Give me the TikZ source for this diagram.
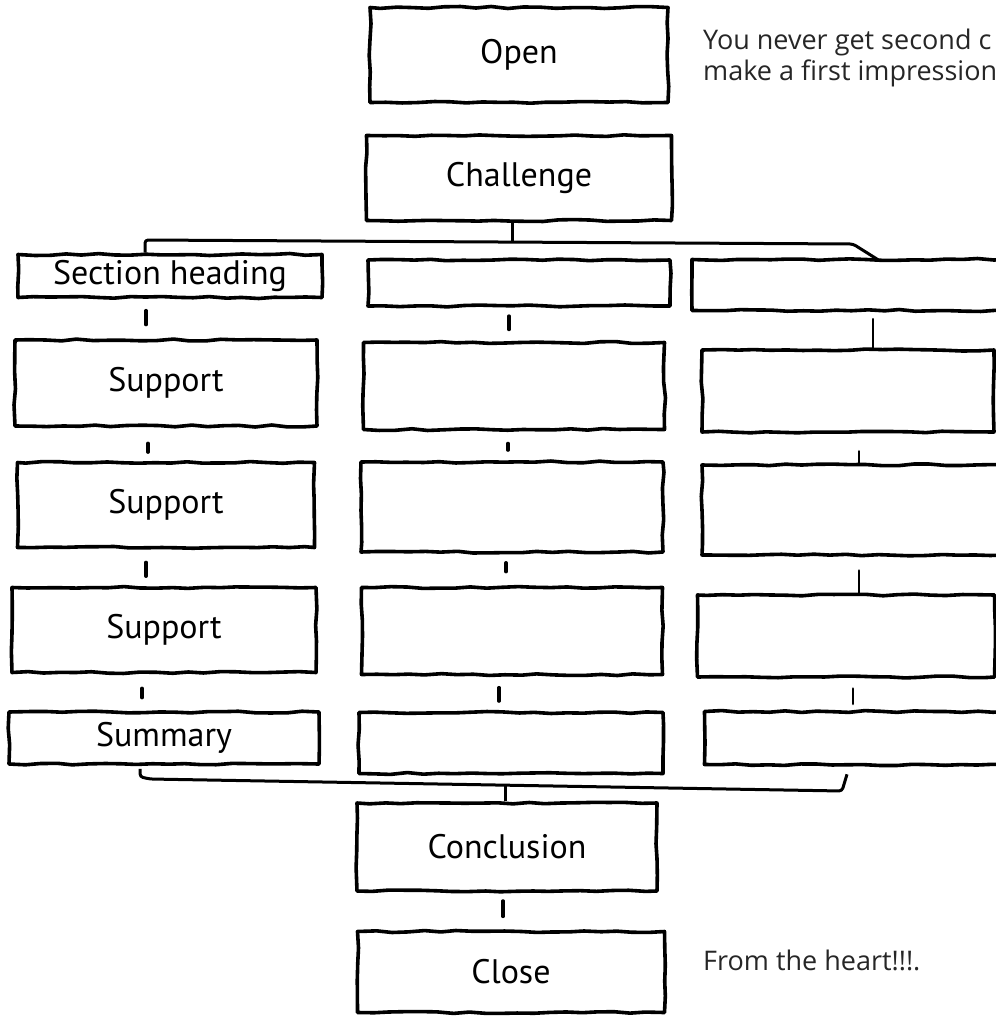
\documentclass[tikz,border=0pt]{standalone}
\usepackage{fontspec}
\setmainfont{Open Sans}
\newfontfamily\handfont{PT Sans}
\usetikzlibrary{calc,decorations.pathmorphing}

\begin{document}
\pgfmathsetseed{7}
\begin{tikzpicture}[
    x=1pt, y=-1pt,
    box/.style={draw, line width=3.6pt, line join=round,
      decorate, decoration={random steps, segment length=16pt, amplitude=1pt},
      inner sep=0pt, font=\handfont\fontsize{34}{40}\selectfont},
    link/.style={line width=3pt, line join=round, rounded corners=3pt},
    tick/.style={line width=3.4pt, line cap=round},
    note/.style={anchor=base west, inner sep=0pt, text=black!85,
      font=\fontsize{27}{32}\selectfont}
    ]

    \useasboundingbox (0,0) rectangle (996,1018);
    \clip (0,0) rectangle (996,1018);

    % top of the talk
    \node (open) [box, minimum width=298, minimum height=95] at (519,55) {Open};
    \node (chal) [box, minimum width=305, minimum height=85] at (519,178) {Challenge};

    \node (tipA) [note] at (703,49) {You never get second c};
    \node (tipB) [note] at (703,80) {make a first impression};

    % three sections, five rows each
    \foreach \col/\row/\cx/\cy/\w/\h/\txt in {
        1/1/170/276/304/43/Section heading, 1/2/166/383/302/86/Support,
        1/3/166/505/297/85/Support, 1/4/164/630/304/85/Support,
        1/5/164/738/310/52/Summary,
        2/1/519/283/302/46/{}, 2/2/514/386/301/87/{}, 2/3/512/507/302/90/{},
        2/4/512/631/301/87/{}, 2/5/511/743/304/61/{},
        3/1/851/285/318/51/{}, 3/2/848/391/292/82/{}, 3/3/856/510/308/90/{},
        3/4/846/636/297/82/{}, 3/5/857/738/305/53/{}}
      \node (c\col r\row) [box, minimum width=\w, minimum height=\h] at (\cx,\cy) {\txt};

    % short marks between the rows
    \foreach \col/\row/\nxt/\dx/\fa/\fb/\lw in {
        1/1/2/-24/.29/.65/3.4, 1/2/3/-18/.47/.74/3.4, 1/3/4/-20/.36/.74/3.4, 1/4/5/-22/.39/.65/3.4,
        2/1/2/-10/.25/.66/3.4, 2/2/3/-6/.42/.65/3.4, 2/3/4/-6/.28/.56/3.4, 2/4/5/-13/.33/.72/3.4,
        3/1/2/22/.19/1/2.6, 3/2/3/11/.6/1/2.9, 3/3/4/3/.38/1/2.9, 3/4/5/7/.32/.81/2.9}
      \draw[tick, line width=\lw] ($(c\col r\row.south)!\fa!(c\col r\row.south |- c\col r\nxt.north)+(\dx,0)$)
        -- ($(c\col r\row.south)!\fb!(c\col r\row.south |- c\col r\nxt.north)+(\dx,0)$);

    % bracket under the challenge
    \coordinate (tl) at (145,240);
    \coordinate (tr) at (853,244);
    \draw[link] ([xshift=-7]chal.south) -- ++(0,20);
    \draw[link] ([xshift=-25]c1r1.north) -- (tl) -- (tr) -- ([xshift=27,yshift=-2]c3r1.north);

    % bracket above the conclusion
    \coordinate (bl) at (150,779);
    \coordinate (br) at (842,791);
    \draw[link] ([xshift=-24,yshift=-3]c1r5.south) -- ++(0,8) -- (bl) -- (br)
      -- ([xshift=-10,yshift=-8]c3r5.south);

    \node (concl) [box, minimum width=300, minimum height=88] at (507,847) {Conclusion};
    \draw[link] ([xshift=-2]concl.north) -- ++(0,-17);

    \node (close) [box, minimum width=307, minimum height=81] at (511,972) {Close};
    \draw[tick] ($(concl.south)!.22!(concl.south |- close.north)+(-4,0)$)
      -- ($(concl.south)!.64!(concl.south |- close.north)+(-4,0)$);

    \node (tipC) [note] at (703,970) {From the heart!!!.};

  \end{tikzpicture}
\end{document}
